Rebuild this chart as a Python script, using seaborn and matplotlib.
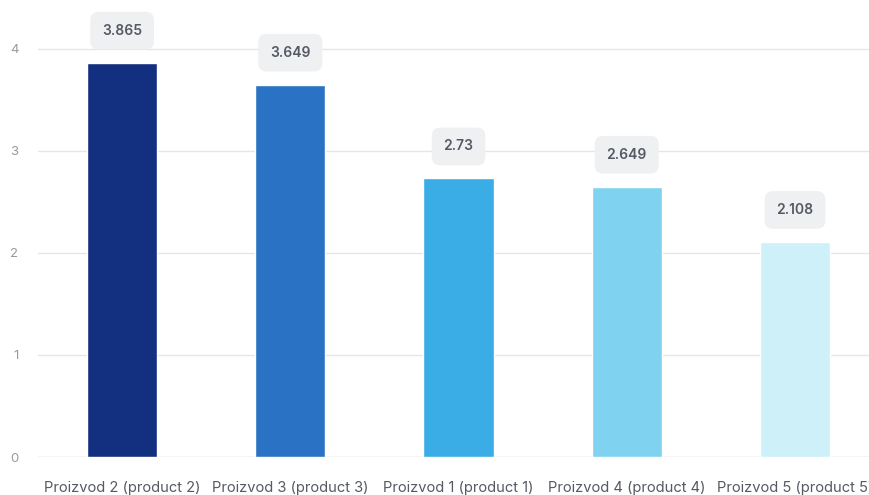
import matplotlib
matplotlib.use("Agg")
import matplotlib.pyplot as plt
import seaborn as sns
import pandas as pd

# --- Data ---
products = [
    "Proizvod 2 (product 2)",
    "Proizvod 3 (product 3)",
    "Proizvod 1 (product 1)",
    "Proizvod 4 (product 4)",
    "Proizvod 5 (product 5)",
]
values = [3.865, 3.649, 2.73, 2.649, 2.108]
colors = ["#132f80", "#2a73c4", "#3aade6", "#7fd3f0", "#cdf0f9"]


def main():
    df = pd.DataFrame({"product": products, "value": values})

    sns.set_style("white")
    plt.rcParams["font.family"] = ["Inter", "DejaVu Sans"]

    fig = plt.figure(figsize=(8.69, 4.95), dpi=100)
    ax = fig.add_axes([38 / 869, 38 / 495, 831 / 869, 449 / 495])

    sns.barplot(
        data=df, x="product", y="value", hue="product", palette=colors,
        width=0.417, legend=False, ax=ax, saturation=1,
    )

    ax.set_xlim(-0.5, 4.44)
    ax.set_ylim(0, 4.4)
    ax.set_yticks([0, 1, 2, 3, 4])
    ax.set_xlabel("")
    ax.set_ylabel("")
    ax.grid(axis="y", color="#e6e6e6", linewidth=1)
    ax.axhline(0, color="#dcdcdc", linewidth=1, zorder=0)
    ax.set_axisbelow(True)
    for s in ax.spines.values():
        s.set_visible(False)
    ax.tick_params(axis="y", length=0, pad=14, labelsize=9.5, labelcolor="#9a9a9a")
    ax.tick_params(axis="x", length=0, pad=17, labelsize=10.6, labelcolor="#555a63")
    for lbl in ax.get_xticklabels():
        lbl.set_clip_on(False)

    for i, v in enumerate(values):
        ax.annotate(
            f"{v:g}", xy=(i, v), xytext=(0, 23), textcoords="offset points",
            ha="center", va="center", fontsize=10, color="#545965", fontweight="semibold",
            bbox=dict(boxstyle="round,pad=0.85,rounding_size=0.6", fc="#eef0f2", ec="none"),
            annotation_clip=False,
        )

    fig.savefig("out.png", dpi=100)


if __name__ == "__main__":
    main()
